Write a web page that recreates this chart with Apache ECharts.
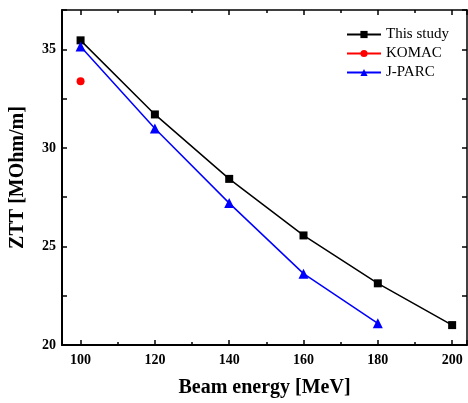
<!DOCTYPE html>
<html>
<head>
<meta charset="utf-8">
<script src="https://cdn.jsdelivr.net/npm/echarts@6/dist/echarts.min.js"></script>
<style>
html, body { margin: 0; padding: 0; background: #fff; }
#chart { width: 468px; height: 403px; }
</style>
</head>
<body>
<div id="chart"></div>
<script>
let energy = [100, 120, 140, 160, 180, 200]
let thisStudy = [35.46, 31.7, 28.43, 25.56, 23.13, 21.01]
let komacEnergy = [100]
let komac = [33.38]
let jparcEnergy = [100, 120, 140, 160, 180]
let jparc = [35.15, 30.99, 27.2, 23.62, 21.1]

let font = 'Liberation Serif'

function pairs(xs, ys) {
    return xs.map(function(x, i) { return [x, ys[i]] })
}

let chart = echarts.init(document.getElementById('chart'))

let option = {
    animation: false,
    backgroundColor: '#fff',
    grid: { left: 61, top: 10, right: 1, bottom: 58, containLabel: false },
    legend: {
        left: 341,
        top: 22,
        orient: 'vertical',
        itemWidth: 34,
        itemHeight: 9,
        itemGap: 4,
        textStyle: { fontFamily: font, fontSize: 15, color: '#000' },
        data: ['This study', 'KOMAC', 'J-PARC']
    },
    xAxis: [
        {
            type: 'value',
            min: 95,
            max: 204,
            splitNumber: 5,
            name: 'Beam energy [MeV]',
            nameLocation: 'middle',
            nameGap: 33,
            nameTextStyle: { fontFamily: font, fontSize: 20, fontWeight: 'bold', color: '#000' },
            axisLine: { lineStyle: { color: '#000', width: 2 } },
            axisTick: { inside: true, length: 5, lineStyle: { color: '#000', width: 1.5 } },
            minorTick: { show: true, splitNumber: 2, length: 3, lineStyle: { color: '#000', width: 1.5 } },
            axisLabel: {
                showMinLabel: false,
                showMaxLabel: false,
                margin: 8,
                fontFamily: font, fontSize: 14, fontWeight: 'bold', color: '#000'
            },
            splitLine: { show: false }
        },
        {
            type: 'value',
            position: 'top',
            min: 95,
            max: 204,
            splitNumber: 5,
            axisLine: { lineStyle: { color: '#000', width: 1.5 } },
            axisTick: { inside: true, length: 5, lineStyle: { color: '#000', width: 1.5 } },
            minorTick: { show: true, splitNumber: 2, length: 3, lineStyle: { color: '#000', width: 1.5 } },
            axisLabel: { show: false },
            splitLine: { show: false }
        }
    ],
    yAxis: [
        {
            type: 'value',
            min: 20,
            max: 37,
            interval: 2.5,
            name: 'ZTT [MOhm/m]',
            nameLocation: 'middle',
            nameGap: 34,
            nameTextStyle: { fontFamily: font, fontSize: 20, fontWeight: 'bold', color: '#000' },
            axisLine: { show: true, lineStyle: { color: '#000', width: 2 } },
            axisTick: { show: true, inside: true, length: 5, lineStyle: { color: '#000', width: 1.5 } },
            axisLabel: {
                margin: 6,
                fontFamily: font, fontSize: 14, fontWeight: 'bold', color: '#000',
                formatter: function(v) { return v % 5 === 0 ? String(v) : '' }
            },
            splitLine: { show: false }
        },
        {
            type: 'value',
            position: 'right',
            min: 20,
            max: 37,
            interval: 2.5,
            axisLine: { show: true, lineStyle: { color: '#000', width: 1.5 } },
            axisTick: { show: true, inside: true, length: 5, lineStyle: { color: '#000', width: 1.5 } },
            axisLabel: { show: false },
            splitLine: { show: false }
        }
    ],
    series: [
        {
            name: 'This study',
            type: 'line',
            data: pairs(energy, thisStudy),
            symbol: 'rect',
            symbolSize: 8,
            itemStyle: { color: '#000' },
            lineStyle: { color: '#000', width: 1.5 }
        },
        {
            name: 'KOMAC',
            type: 'line',
            data: pairs(komacEnergy, komac),
            symbol: 'circle',
            symbolSize: 8,
            itemStyle: { color: '#ff0000' },
            lineStyle: { color: '#ff0000', width: 1.5 }
        },
        {
            name: 'J-PARC',
            type: 'line',
            data: pairs(jparcEnergy, jparc),
            symbol: 'triangle',
            symbolSize: 10,
            itemStyle: { color: '#0000ff' },
            lineStyle: { color: '#0000ff', width: 1.5 }
        }
    ]
}

chart.setOption(option)
</script>
</body>
</html>
